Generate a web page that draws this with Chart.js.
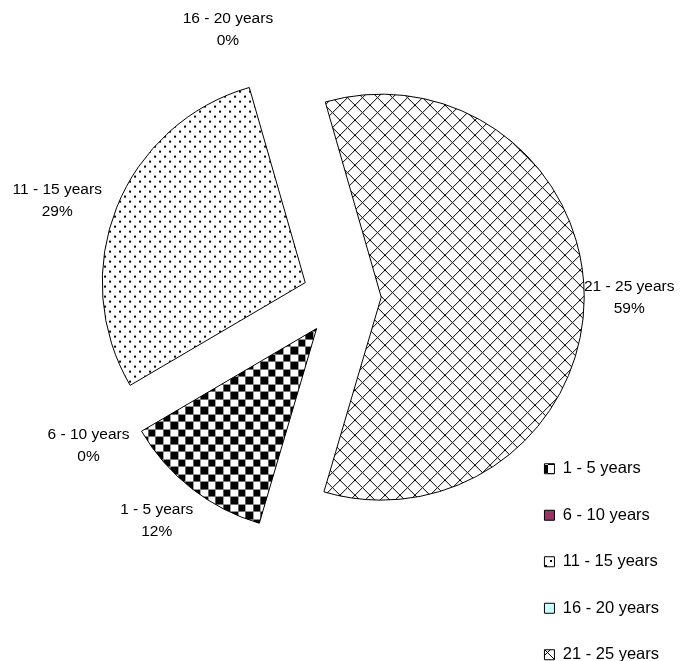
<!DOCTYPE html>
<html>
<head>
<meta charset="utf-8">
<script src="https://cdn.jsdelivr.net/npm/chart.js@4.4.1/dist/chart.umd.min.js"></script>
<style>
  html, body { margin: 0; padding: 0; background: #fff; }
</style>
</head>
<body>
<canvas id="agePie" width="699" height="661"></canvas>
<script>
const categories = ['1 - 5 years', '6 - 10 years', '11 - 15 years', '16 - 20 years', '21 - 25 years'];
const shares = [12, 0, 29, 0, 59];

const canvas = document.getElementById('agePie');
const ctx = canvas.getContext('2d');

// small black & white fill patterns, like the old excel ones
function makePattern(size, paint) {
    const tile = document.createElement('canvas');
    tile.width = size;
    tile.height = size;
    const g = tile.getContext('2d');
    g.fillStyle = '#fff';
    g.fillRect(0, 0, size, size);
    g.fillStyle = '#000';
    paint(g, size);
    return ctx.createPattern(tile, 'repeat');
}

const checker = makePattern(15, (g) => {
    g.fillRect(0, 0, 8, 8);
    g.fillRect(8, 8, 7, 7);
});
const dots = makePattern(10, (g) => {
    g.fillRect(0, 0, 2, 2);
    g.fillRect(5, 5, 2, 2);
});
const lattice = makePattern(15, (g, n) => {
    for (let i = 0; i < n; i++) {
        g.fillRect(i, i, 1, 1);
        g.fillRect(n - 1 - i, i, 1, 1);
    }
});

const pieRadius = 203;
const labelRadius = 290;
// excel nudged a few of the labels a bit (degrees, px)
const labelShift = [[1.5, 0], [0, 3], [-3, 10], [-7, 0], [0, -2]];
const legendDrop = 99;

const sliceLabels = {
    id: 'sliceLabels',
    afterLayout(chart) {
        // legend sits lower than the layout box allows
        chart.legend.top += legendDrop;
        chart.legend.bottom += legendDrop;
    },
    afterDatasetsUpdate(chart) {
        // offset also grows the outer edge and trims the angle of wide slices,
        // undo that so every slice keeps one radius and its true share
        const meta = chart.getDatasetMeta(0);
        meta.data.forEach((arc) => {
            const off = (arc.options.offset || 0) / 4;
            const circ = arc.endAngle - arc.startAngle;
            const grow = off * (1 - Math.sin(Math.min(Math.PI, circ)));
            arc.outerRadius = pieRadius - grow;
            if (circ > 0) {
                const widen = grow / Math.PI / pieRadius / 2;
                arc.startAngle -= widen;
                arc.endAngle += widen;
            }
        });
    },
    afterDatasetsDraw(chart) {
        const c = chart.ctx;
        const meta = chart.getDatasetMeta(0);
        const total = shares.reduce((a, b) => a + b, 0);
        c.save();
        c.font = '15.5px "Liberation Sans", Arial, sans-serif';
        c.fillStyle = '#000';
        c.textAlign = 'center';
        c.textBaseline = 'middle';
        meta.data.forEach((arc, i) => {
            const mid = (arc.startAngle + arc.endAngle) / 2 + labelShift[i][0] * Math.PI / 180;
            const r = labelRadius + labelShift[i][1];
            const x = arc.x + Math.cos(mid) * r;
            const y = arc.y + Math.sin(mid) * r;
            c.fillText(categories[i], x, y - 11);
            c.fillText(Math.round(shares[i] / total * 100) + '%', x, y + 11);
        });
        c.restore();
    }
};

const data = {
    labels: categories,
    datasets: [{
        data: shares,
        backgroundColor: [checker, '#993366', dots, '#ccffff', lattice],
        borderColor: '#000',
        borderWidth: 1,
        offset: [160, 0, 155, 0, 160],
    }]
};

const config = {
    type: 'pie',
    data: data,
    options: {
        responsive: false,
        animation: false,
        rotation: 196.4,
        radius: pieRadius,
        layout: {
            padding: { left: 168, right: 30, top: 0, bottom: 67 }
        },
        plugins: {
            tooltip: { enabled: false },
            legend: {
                position: 'right',
                align: 'end',
                labels: {
                    boxWidth: 10,
                    boxHeight: 10,
                    padding: 30,
                    color: '#000',
                    font: { family: '"Liberation Sans", Arial, sans-serif', size: 16.5 }
                }
            }
        }
    },
    plugins: [sliceLabels]
};

const agePie = new Chart(canvas, config);
</script>
</body>
</html>
